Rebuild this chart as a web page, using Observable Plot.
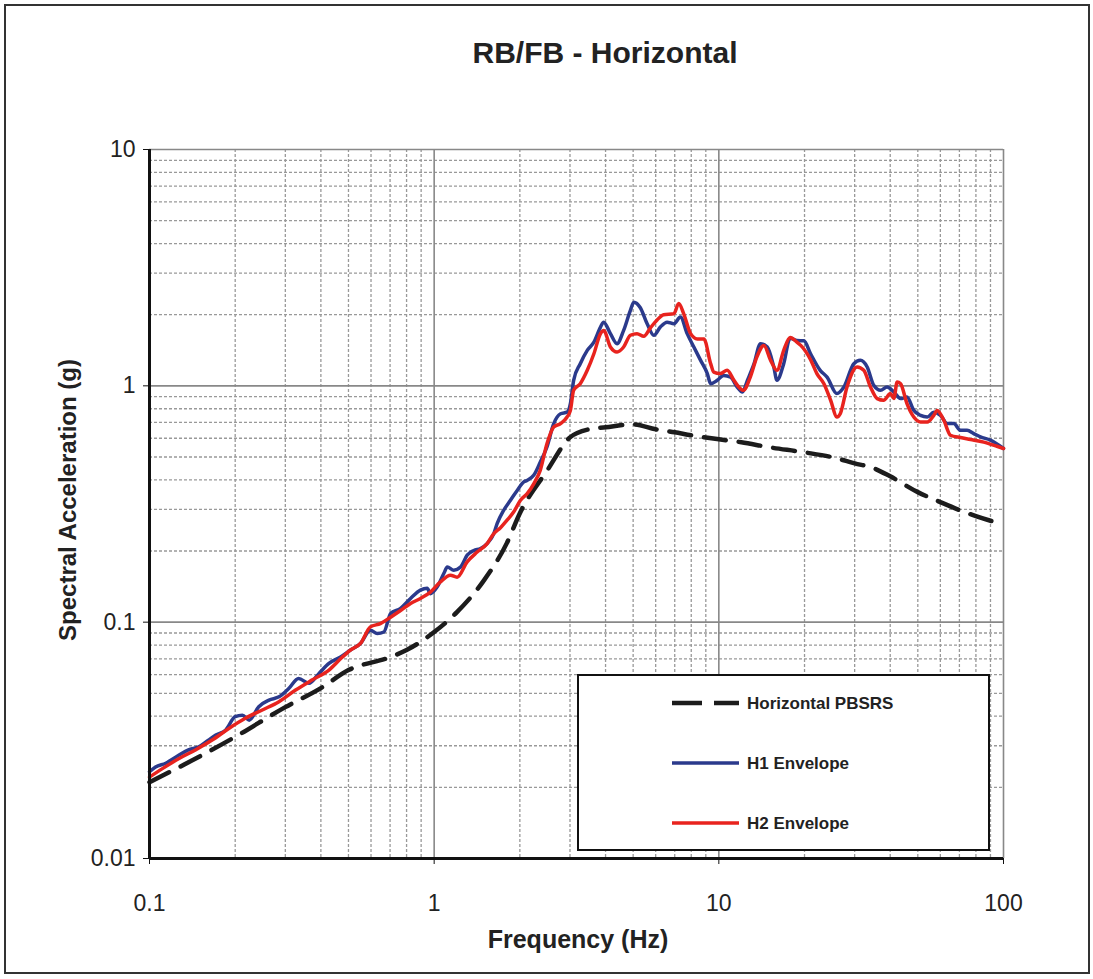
<!DOCTYPE html>
<html>
<head>
<meta charset="utf-8">
<script src="https://cdn.jsdelivr.net/npm/d3@7"></script>
<script src="https://cdn.jsdelivr.net/npm/@observablehq/plot@0.6"></script>
<style>
  html, body { margin: 0; padding: 0; background: #fff; }
  #wrap { position: relative; width: 1093px; height: 979px; overflow: hidden; font-family: "Liberation Sans", Arial, sans-serif; }
  #frame { position: absolute; left: 4px; top: 4px; width: 1086px; height: 970px; border: 2px solid #333; box-sizing: border-box; pointer-events: none; }
  #title { position: absolute; left: 0; width: 1210px; top: 36px; text-align: center; font-weight: bold; font-size: 30px; color: #222; }
  #xlabel { position: absolute; left: 0; width: 1156px; top: 925px; text-align: center; font-weight: bold; font-size: 25px; color: #222; }
  #ylabel { position: absolute; left: 68px; top: 500px; transform: translate(-50%, -50%) rotate(-90deg); white-space: nowrap; font-weight: bold; font-size: 24px; color: #222; }
  #legend { position: absolute; left: 577px; top: 674px; width: 413px; height: 177px; border: 2px solid #111; box-sizing: border-box; background: #fff; }
  #legend svg { position: absolute; left: 0; top: 0; }
  #chart { position: absolute; left: 0; top: 0; }
</style>
</head>
<body>
<div id="wrap">
  <div id="chart"></div>
  <div id="title">RB/FB - Horizontal</div>
  <div id="xlabel">Frequency (Hz)</div>
  <div id="ylabel">Spectral Acceleration (g)</div>
  <div id="legend"></div>
  <div id="frame"></div>
</div>
<script>
// ---- Data ----
const xMajor = [0.1, 1, 10, 100];
const xTickLabels = ["0.1", "1", "10", "100"];
const yMajor = [0.01, 0.1, 1, 10];
const yTickLabels = ["0.01", "0.1", "1", "10"];
const xMinor = [0.2,0.3,0.4,0.5,0.6,0.7,0.8,0.9, 2,3,4,5,6,7,8,9, 20,30,40,50,60,70,80,90];
const yMinor = [0.02,0.03,0.04,0.05,0.06,0.07,0.08,0.09, 0.2,0.3,0.4,0.5,0.6,0.7,0.8,0.9, 2,3,4,5,6,7,8,9];

const seriesNames = ["Horizontal PBSRS", "H1 Envelope", "H2 Envelope"];

const pbsrsFreq  = [0.1,0.2,0.3,0.4,0.5,0.7,0.8,1,1.2,1.5,1.8,2,2.5,3,3.5,4,5,6,7,8,10,12,15,20,25,30,35,40,50,60,70,80,100];
const pbsrsAccel = [0.021,0.0327,0.0437,0.0526,0.0627,0.0711,0.0762,0.0908,0.110,0.151,0.216,0.289,0.44,0.605,0.655,0.668,0.687,0.655,0.636,0.618,0.594,0.577,0.55,0.523,0.499,0.47,0.448,0.414,0.355,0.322,0.298,0.281,0.259];

const h1Freq = [0.1,0.105,0.114,0.127,0.137,0.149,0.161,0.171,0.185,0.2,0.212,0.224,0.242,0.263,0.285,0.309,0.334,0.363,0.394,0.427,0.469,0.508,0.551,0.597,0.631,0.666,0.703,0.762,0.826,0.895,0.945,0.97,1.025,1.082,1.112,1.172,1.237,1.306,1.378,1.455,1.535,1.62,1.664,1.756,1.854,1.957,2.065,2.122,2.24,2.36,2.49,2.63,2.78,2.93,3.01,3.09,3.26,3.45,3.64,3.84,3.94,4.16,4.39,4.63,4.89,5.03,5.3,5.6,5.91,6.23,6.58,6.95,7.33,7.74,8.17,8.63,9.11,9.36,9.87,10.4,11.0,11.6,12.1,12.6,13.3,14.0,14.8,15.6,16.0,16.9,17.8,18.8,19.9,21.0,22.7,24.0,26.0,27.5,29.8,31.4,33.2,35.0,37.0,39.0,41.2,43.5,45.8,48.4,51.1,54.0,56.9,60.1,63.4,66.9,70.6,74.5,78.6,83.0,89.9,100];
const h1Accel = [0.0233,0.0244,0.0253,0.0274,0.0288,0.0297,0.0317,0.0333,0.0349,0.0398,0.0404,0.0385,0.0439,0.0468,0.0483,0.0525,0.0578,0.0551,0.0607,0.0669,0.0713,0.0762,0.0813,0.0925,0.0895,0.0909,0.1088,0.1143,0.126,0.1366,0.139,0.132,0.141,0.161,0.171,0.166,0.171,0.192,0.201,0.205,0.215,0.237,0.261,0.298,0.328,0.361,0.392,0.398,0.419,0.476,0.551,0.692,0.762,0.774,0.841,1.055,1.241,1.413,1.531,1.773,1.86,1.663,1.508,1.716,2.087,2.26,2.14,1.83,1.636,1.773,1.86,1.83,1.954,1.663,1.46,1.282,1.127,1.021,1.055,1.107,1.089,0.988,0.941,1.055,1.241,1.508,1.46,1.201,1.055,1.241,1.59,1.556,1.55,1.367,1.163,1.089,0.927,0.988,1.241,1.282,1.201,1.005,0.957,0.988,0.941,0.883,0.897,0.787,0.75,0.738,0.774,0.75,0.692,0.692,0.648,0.648,0.628,0.608,0.589,0.543];

const h2Freq = [0.1,0.111,0.127,0.145,0.166,0.19,0.217,0.249,0.285,0.326,0.372,0.427,0.475,0.508,0.551,0.597,0.647,0.703,0.762,0.826,0.895,0.97,1.052,1.14,1.204,1.306,1.416,1.535,1.62,1.71,1.803,1.904,2.01,2.122,2.24,2.36,2.49,2.63,2.78,2.93,3.01,3.09,3.26,3.45,3.64,3.84,3.94,4.16,4.39,4.63,4.89,5.16,5.45,5.75,6.07,6.4,6.95,7.23,7.53,7.96,8.4,8.86,9.36,9.6,10.1,10.7,11.3,11.9,12.2,12.9,13.6,14.4,15.2,16.0,16.9,17.8,18.8,19.4,21.0,22.1,23.4,24.7,26.0,26.7,28.2,30.6,32.3,34.1,36.0,37.9,40.1,41.2,42.3,43.5,45.8,48.4,51.1,54.0,56.9,58.5,61.7,65.1,70.6,76.6,85.2,94.8,100];
const h2Accel = [0.0221,0.024,0.0265,0.0288,0.0317,0.0355,0.0392,0.0425,0.0461,0.0516,0.0569,0.0627,0.071,0.0762,0.0813,0.0955,0.0986,0.105,0.112,0.12,0.126,0.134,0.148,0.158,0.155,0.18,0.198,0.215,0.237,0.251,0.27,0.293,0.328,0.35,0.386,0.44,0.569,0.67,0.692,0.738,0.787,0.957,1.021,1.163,1.367,1.663,1.716,1.46,1.39,1.46,1.636,1.663,1.62,1.76,1.9,2.0,2.017,2.23,2.017,1.663,1.58,1.58,1.241,1.143,1.127,1.163,1.055,0.973,0.957,1.089,1.324,1.483,1.282,1.163,1.413,1.6,1.531,1.483,1.29,1.127,1.021,0.869,0.738,0.762,0.988,1.201,1.163,0.988,0.883,0.869,0.927,0.883,1.038,1.021,0.841,0.738,0.703,0.703,0.75,0.787,0.715,0.618,0.604,0.593,0.578,0.555,0.543];

const colors = { pbsrs: "#1c1c1c", h1: "#2b3a8c", h2: "#e8231e" };

// ---- Build tables ----
const pbsrs = pbsrsFreq.map((f, i) => ({ f, a: pbsrsAccel[i] }));
const h1 = h1Freq.map((f, i) => ({ f, a: h1Accel[i] }));
const h2 = h2Freq.map((f, i) => ({ f, a: h2Accel[i] }));
const xLab = new Map(xMajor.map((d, i) => [d, xTickLabels[i]]));
const yLab = new Map(yMajor.map((d, i) => [d, yTickLabels[i]]));

const chart = Plot.plot({
  width: 1093,
  height: 979,
  marginLeft: 149,
  marginRight: 90,
  marginTop: 149,
  marginBottom: 121,
  x: { type: "log", domain: [0.1, 100] },
  y: { type: "log", domain: [0.01, 10] },
  style: { fontFamily: "'Liberation Sans', Arial, sans-serif", fontSize: "23px", color: "#222", background: "transparent" },
  marks: [
    Plot.ruleX(xMinor, { stroke: "#999", strokeWidth: 1.3, strokeDasharray: "3,2" }),
    Plot.ruleY(yMinor, { stroke: "#999", strokeWidth: 1.3, strokeDasharray: "3,2" }),
    Plot.ruleX(xMajor.slice(1), { stroke: "#888", strokeWidth: 1.6 }),
    Plot.ruleY(yMajor.slice(1), { stroke: "#888", strokeWidth: 1.6 }),
    Plot.line(pbsrs, { x: "f", y: "a", stroke: colors.pbsrs, strokeWidth: 4.5, strokeDasharray: "22,13", curve: "monotone-x" }),
    Plot.line(h1, { x: "f", y: "a", stroke: colors.h1, strokeWidth: 3.5, curve: "monotone-x" }),
    Plot.line(h2, { x: "f", y: "a", stroke: colors.h2, strokeWidth: 3.5, curve: "monotone-x" }),
    Plot.ruleX([0.1], { stroke: "#111", strokeWidth: 3 }),
    Plot.ruleY([0.01], { stroke: "#111", strokeWidth: 3 }),
    Plot.axisX({ ticks: xMajor, tickFormat: d => xLab.get(d), tickSize: 6, tickPadding: 30, label: null, stroke: "#111", fontSize: 23 }),
    Plot.axisY({ ticks: yMajor, tickFormat: d => yLab.get(d), tickSize: 6, tickPadding: 8, label: null, stroke: "#111", fontSize: 23 })
  ]
});
document.getElementById("chart").appendChild(chart);

// ---- Legend ----
const legendItems = [
  { name: seriesNames[0], color: colors.pbsrs, dash: "30,12", w: 4.5 },
  { name: seriesNames[1], color: colors.h1, dash: null, w: 3.5 },
  { name: seriesNames[2], color: colors.h2, dash: null, w: 3.5 }
];
const ns = "http://www.w3.org/2000/svg";
const lsvg = document.createElementNS(ns, "svg");
lsvg.setAttribute("width", 413); lsvg.setAttribute("height", 177);
legendItems.forEach((it, i) => {
  const y = 27 + i * 60;
  const ln = document.createElementNS(ns, "line");
  ln.setAttribute("x1", 93); ln.setAttribute("x2", 160);
  ln.setAttribute("y1", y); ln.setAttribute("y2", y);
  ln.setAttribute("stroke", it.color); ln.setAttribute("stroke-width", it.w);
  if (it.dash) ln.setAttribute("stroke-dasharray", it.dash);
  lsvg.appendChild(ln);
  const tx = document.createElementNS(ns, "text");
  tx.setAttribute("x", 168); tx.setAttribute("y", y + 6);
  tx.setAttribute("font-family", "'Liberation Sans', Arial, sans-serif");
  tx.setAttribute("font-weight", "bold"); tx.setAttribute("font-size", "17");
  tx.setAttribute("fill", "#222");
  tx.textContent = it.name;
  lsvg.appendChild(tx);
});
document.getElementById("legend").appendChild(lsvg);
</script>
</body>
</html>
